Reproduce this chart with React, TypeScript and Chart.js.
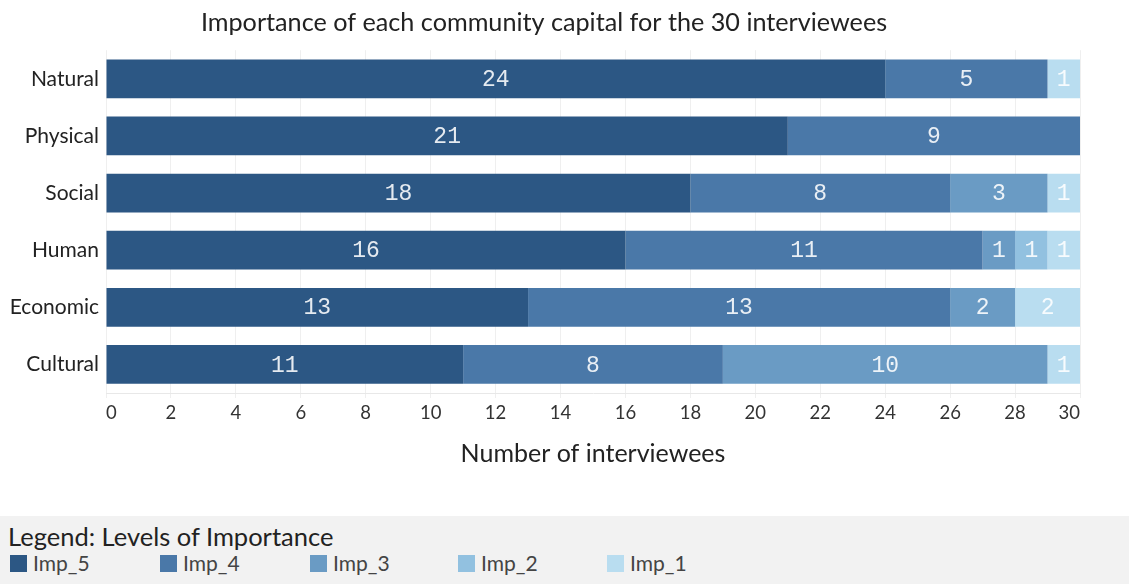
import React, { useEffect, useRef } from "react";
import { Chart, registerables } from "chart.js";

Chart.register(...registerables);

const categories = ["Natural", "Physical", "Social", "Human", "Economic", "Cultural"];
const seriesNames = ["Imp_5", "Imp_4", "Imp_3", "Imp_2", "Imp_1"];
const imp5 = [24, 21, 18, 16, 13, 11];
const imp4 = [5, 9, 8, 11, 13, 8];
const imp3 = [0, 0, 3, 1, 2, 10];
const imp2 = [0, 0, 0, 1, 0, 0];
const imp1 = [1, 0, 1, 1, 2, 1];
const seriesColors = ["#2c5784", "#4a78a8", "#6a9bc4", "#92c1e0", "#b9ddf0"];
const xTicks = [0, 2, 4, 6, 8, 10, 12, 14, 16, 18, 20, 22, 24, 26, 28, 30];

const FONT = "Lato, 'Open Sans', sans-serif";

const labelPlugin = {
  id: "segLabels",
  afterDatasetsDraw(chart: any) {
    const ctx = chart.ctx;
    ctx.save();
    ctx.font = "23px 'Liberation Mono', monospace";
    ctx.fillStyle = "rgba(255,255,255,0.88)";
    ctx.textAlign = "center";
    ctx.textBaseline = "middle";
    chart.data.datasets.forEach((ds: any, i: number) => {
      const meta = chart.getDatasetMeta(i);
      meta.data.forEach((el: any, j: number) => {
        const v = ds.data[j];
        if (!v) return;
        const p = el.getProps(["x", "y", "base"], true);
        ctx.fillText(String(v), (p.x + p.base) / 2, p.y + 1);
      });
    });
    ctx.restore();
  },
};

export default function App() {
  const ref = useRef<HTMLCanvasElement | null>(null);
  useEffect(() => {
    if (!ref.current) return;
    const all = [imp5, imp4, imp3, imp2, imp1];
    const chart = new Chart(ref.current, {
      type: "bar",
      data: {
        labels: categories,
        datasets: seriesNames.map((n, i) => ({
          label: n,
          data: all[i],
          backgroundColor: seriesColors[i],
          borderWidth: 0,
          barPercentage: 0.68,
          categoryPercentage: 1,
        })),
      },
      options: {
        indexAxis: "y",
        animation: false,
        responsive: true,
        maintainAspectRatio: false,
        layout: { padding: { left: 8, right: 49, top: 8, bottom: 0 } },
        plugins: {
          legend: { display: false },
          tooltip: { enabled: false },
          title: {
            display: true,
            text: "Importance of each community capital for the 30 interviewees",
            color: "#222",
            font: { family: FONT, size: 25.2, weight: "normal" },
            padding: { top: 0, bottom: 12 },
          },
        },
        scales: {
          x: {
            stacked: true,
            min: 0,
            max: 30,
            afterBuildTicks(scale: any) {
              scale.ticks = xTicks.map((v) => ({ value: v }));
            },
            afterFit(scale: any) {
              scale.height = 87;
            },
            ticks: {
              align: "inner",
              color: "#333",
              padding: 4,
              font: { family: FONT, size: 18.5 },
            },
            grid: { color: "#efefef", tickLength: 5 },
            border: { color: "#e8e8e8" },
            title: {
              display: true,
              text: "Number of interviewees",
              color: "#222",
              font: { family: FONT, size: 25 },
              padding: { top: 4, bottom: 11 },
            },
          },
          y: {
            stacked: true,
            afterFit(scale: any) {
              scale.width = 98;
            },
            ticks: {
              color: "#222",
              padding: 7,
              font: { family: FONT, size: 21 },
            },
            grid: { display: false, drawTicks: false },
            border: { display: false },
          },
        },
      },
      plugins: [labelPlugin],
    } as any);
    return () => chart.destroy();
  }, []);

  const legendItemX = [10, 160, 310, 458, 607];

  return (
    <div style={{ position: "absolute", left: 0, top: 0, width: 1129, height: 584, background: "#fff", overflow: "hidden" }}>
      <div style={{ position: "absolute", left: 0, top: 0, width: 1129, height: 480 }}>
        <canvas ref={ref} />
      </div>
      <div style={{ position: "absolute", left: 0, top: 516, width: 1129, height: 68, background: "#f2f2f2", fontFamily: FONT }}>
        <div style={{ position: "absolute", left: 8, top: 5, fontSize: 25.5, color: "#222", whiteSpace: "nowrap", lineHeight: "30px" }}>
          Legend: Levels of Importance
        </div>
        {seriesNames.map((n, i) => (
          <div key={n} style={{ position: "absolute", left: legendItemX[i], top: 38, height: 18, display: "flex", alignItems: "center", whiteSpace: "nowrap" }}>
            <div style={{ width: 17, height: 17, background: seriesColors[i], marginRight: 6 }} />
            <span style={{ fontSize: 21, color: "#444", lineHeight: "18px" }}>{n}</span>
          </div>
        ))}
      </div>
    </div>
  );
}
